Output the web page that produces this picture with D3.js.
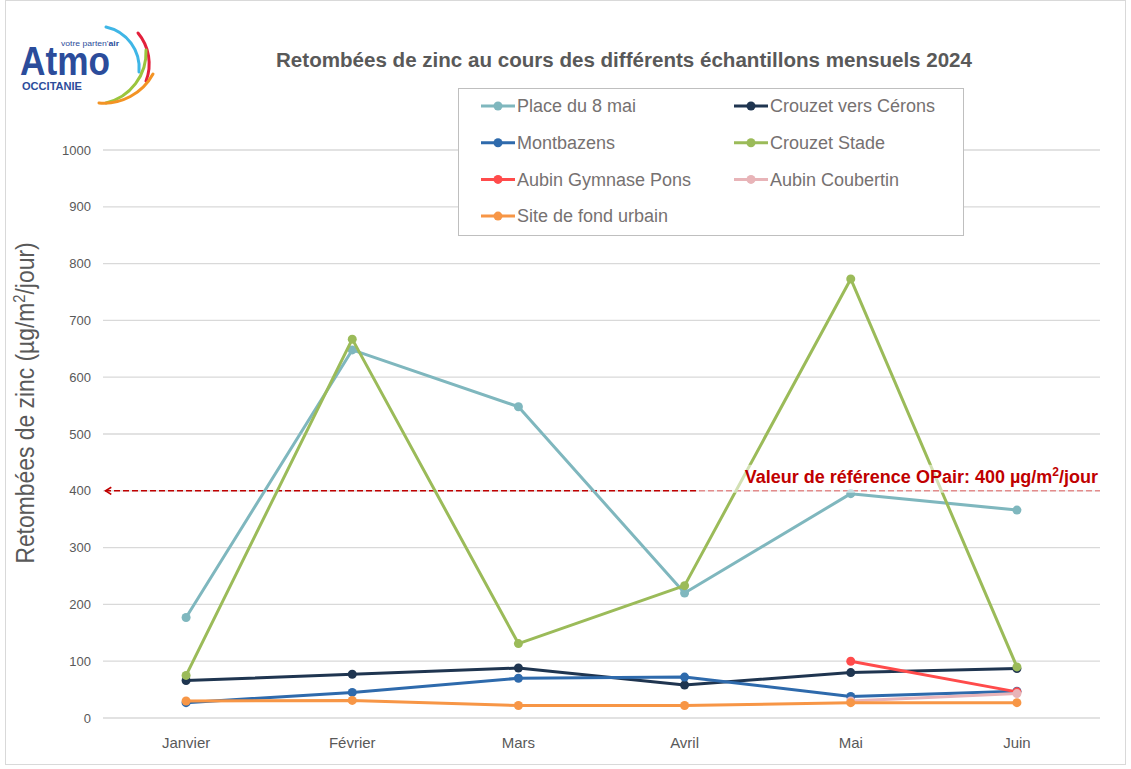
<!DOCTYPE html>
<html>
<head>
<meta charset="utf-8">
<script src="https://cdn.jsdelivr.net/npm/d3@7"></script>
<style>
  body { margin: 0; background: #fff; }
  svg { display: block; }
</style>
</head>
<body>
<div id="chart"></div>
<script>
// données
const mois = ["Janvier", "Février", "Mars", "Avril", "Mai", "Juin"];
const yTicks = [0, 100, 200, 300, 400, 500, 600, 700, 800, 900, 1000];

const placeDu8Mai = [177, 648, 548, 220, 395, 366];
const crouzetCerons = [66, 77, 88, 58, 80, 87];
const montbazens = [27, 45, 70, 72, 38, 47];
const crouzetStade = [75, 667, 131, 233, 773, 90];
const aubinPons = [null, null, null, null, 100, 46];
const aubinCoubertin = [null, null, null, null, 30, 43];
const fondUrbain = [30, 31, 22, 22, 27, 27];

const seuil = 400;

const series = [
  { name: "Place du 8 mai", values: placeDu8Mai, color: "#7fb7be" },
  { name: "Crouzet vers Cérons", values: crouzetCerons, color: "#1f3550" },
  { name: "Montbazens", values: montbazens, color: "#2e6aac" },
  { name: "Crouzet Stade", values: crouzetStade, color: "#9bbb59" },
  { name: "Aubin Gymnase Pons", values: aubinPons, color: "#ff4b4b" },
  { name: "Aubin Coubertin", values: aubinCoubertin, color: "#e8b4b8" },
  { name: "Site de fond urbain", values: fondUrbain, color: "#f79646" }
];

const width = 1131, height = 769;
const margin = { left: 103, right: 31, top: 150, bottom: 51 };
const font = "'Liberation Sans', Arial, sans-serif";
const grey = "#595959";

const svg = d3.select("#chart").append("svg")
  .attr("width", width).attr("height", height);

// cadre
svg.append("rect")
  .attr("x", 5.5).attr("y", 0.5).attr("width", 1120).attr("height", 764)
  .attr("fill", "#fff").attr("stroke", "#d9d9d9");

const x = d3.scaleBand().domain(mois).range([margin.left, width - margin.right]);
const y = d3.scaleLinear().domain([0, 1000]).range([height - margin.bottom, margin.top]);
const cx = d => x(d) + x.bandwidth() / 2;

// grille
svg.append("g")
  .selectAll("line").data(yTicks).enter().append("line")
  .attr("x1", margin.left).attr("x2", width - margin.right)
  .attr("y1", d => y(d)).attr("y2", d => y(d))
  .attr("stroke", "#d9d9d9").attr("stroke-width", 1.3);

// axe Y
const yAxis = svg.append("g")
  .attr("transform", `translate(${margin.left - 12},0)`)
  .call(d3.axisLeft(y).tickValues(yTicks).tickFormat(d3.format("d")).tickSize(0).tickPadding(0));
yAxis.select(".domain").remove();
yAxis.selectAll("text").attr("fill", grey).style("font", `13px ${font}`);

// axe X
const xAxis = svg.append("g")
  .attr("transform", `translate(0,${height - margin.bottom + 16})`)
  .call(d3.axisBottom(x).tickSize(0).tickPadding(0));
xAxis.select(".domain").remove();
xAxis.selectAll("text").attr("fill", grey).attr("dy", "0.9em").style("font", `15px ${font}`);

// titre axe Y
svg.append("text")
  .attr("transform", `translate(34,403) rotate(-90) scale(0.915,1)`)
  .attr("text-anchor", "middle")
  .attr("fill", grey)
  .style("font", `25px ${font}`)
  .html('Retombées de zinc (µg/m<tspan dy="-9" font-size="16">2</tspan><tspan dy="9">/jour)</tspan>');

// titre
svg.append("text")
  .attr("x", 276).attr("y", 67)
  .attr("textLength", 696).attr("lengthAdjust", "spacingAndGlyphs")
  .attr("fill", grey)
  .style("font", `bold 20px ${font}`)
  .text("Retombées de zinc au cours des différents échantillons mensuels 2024");

// ligne de référence
const refY = y(seuil);
svg.append("defs").append("marker")
  .attr("id", "fleche").attr("viewBox", "0 0 10 10")
  .attr("refX", 1).attr("refY", 5)
  .attr("markerWidth", 6).attr("markerHeight", 6)
  .attr("orient", "auto")
  .append("path").attr("d", "M8,1 L1.5,5 L8,9").attr("fill", "none")
  .attr("stroke", "#c00000").attr("stroke-width", 1.8);

svg.append("line")
  .attr("x1", margin.left + 2).attr("x2", width - margin.right)
  .attr("y1", refY).attr("y2", refY)
  .attr("stroke", "#c00000").attr("stroke-width", 1.5)
  .attr("stroke-dasharray", "6,3")
  .attr("marker-start", "url(#fleche)");

// courbes
const line = d3.line()
  .defined(d => d.v != null)
  .x(d => cx(d.m)).y(d => y(d.v));

const g = svg.append("g");
series.forEach(s => {
  const pts = s.values.map((v, i) => ({ m: mois[i], v: v }));
  g.append("path")
    .datum(pts)
    .attr("d", line)
    .attr("fill", "none")
    .attr("stroke", s.color)
    .attr("stroke-width", 3)
    .attr("stroke-linejoin", "round");
  g.selectAll(null).data(pts.filter(d => d.v != null)).enter().append("circle")
    .attr("cx", d => cx(d.m)).attr("cy", d => y(d.v))
    .attr("r", 4.5).attr("fill", s.color);
});

// étiquette du seuil (fond semi-transparent)
svg.append("rect")
  .attr("x", 697).attr("y", refY - 26).attr("width", 404).attr("height", 28)
  .attr("fill", "#fff").attr("opacity", 0.55);
svg.append("text")
  .attr("x", 1098).attr("y", refY - 8)
  .attr("text-anchor", "end")
  .attr("fill", "#c00000")
  .style("font", `bold 18px ${font}`)
  .html('Valeur de référence OPair: 400 µg/m<tspan dy="-7" font-size="12">2</tspan><tspan dy="7">/jour</tspan>');

// légende
const leg = svg.append("g");
leg.append("rect")
  .attr("x", 458.5).attr("y", 88.5).attr("width", 505).attr("height", 147)
  .attr("fill", "#fff").attr("stroke", "#bfbfbf");
series.forEach((s, i) => {
  const lx = i % 2 === 0 ? 481 : 734;
  const ly = 106 + Math.floor(i / 2) * 36.7;
  leg.append("line")
    .attr("x1", lx).attr("x2", lx + 34).attr("y1", ly).attr("y2", ly)
    .attr("stroke", s.color).attr("stroke-width", 3);
  leg.append("circle").attr("cx", lx + 17).attr("cy", ly).attr("r", 4.5).attr("fill", s.color);
  leg.append("text")
    .attr("x", lx + 36).attr("y", ly).attr("dy", "0.35em")
    .attr("fill", "#767171")
    .style("font", `18px ${font}`)
    .text(s.name);
});

// logo Atmo Occitanie
const logo = svg.append("g");
logo.append("text").attr("x", 20).attr("y", 75)
  .attr("textLength", 90).attr("lengthAdjust", "spacingAndGlyphs")
  .attr("fill", "#2b4c9b").style("font", "bold 41px 'Liberation Sans', Arial, sans-serif")
  .text("Atmo");
logo.append("text").attr("x", 61).attr("y", 46)
  .attr("textLength", 58).attr("lengthAdjust", "spacingAndGlyphs")
  .attr("fill", "#2b4c9b").style("font", "8px 'Liberation Sans', Arial, sans-serif")
  .html('votre parten\'<tspan font-weight="bold">air</tspan>');
logo.append("text").attr("x", 22).attr("y", 90)
  .attr("textLength", 60).attr("lengthAdjust", "spacingAndGlyphs")
  .attr("fill", "#2b4c9b").style("font", "bold 11px 'Liberation Sans', Arial, sans-serif")
  .text("OCCITANIE");
const arcs = [
  { d: "M106,27 A42,42 0 0 1 139,72", c: "#3fb6e6" },
  { d: "M138,33 A48,48 0 0 1 146,81", c: "#e3203b" },
  { d: "M146,50 A52,52 0 0 1 106,103", c: "#9bc53d" },
  { d: "M153,74 A56,56 0 0 1 99,103", c: "#f39324" }
];
logo.selectAll(null).data(arcs).enter().append("path")
  .attr("d", d => d.d).attr("fill", "none")
  .attr("stroke", d => d.c).attr("stroke-width", 3).attr("stroke-linecap", "round");
</script>
</body>
</html>
